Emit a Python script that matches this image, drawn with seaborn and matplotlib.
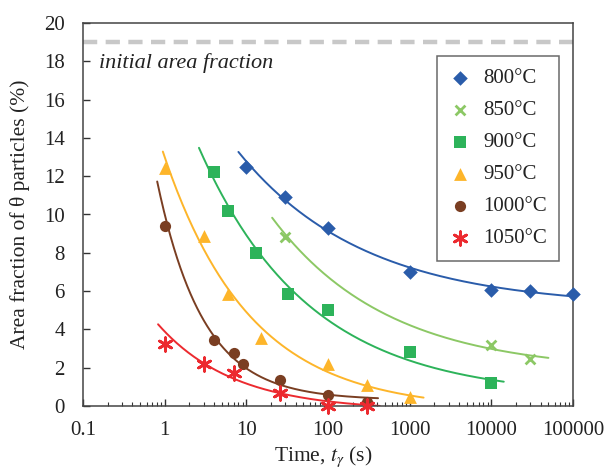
import numpy as np
import pandas as pd
import matplotlib
matplotlib.use("Agg")
import matplotlib.pyplot as plt
import seaborn as sns
from matplotlib.ticker import LogLocator, NullFormatter, FixedLocator, FixedFormatter

# ---- data ----
labels = ["800°C", "850°C", "900°C", "950°C", "1000°C", "1050°C"]
t_800 = [10, 30, 100, 1000, 10000, 30000, 100000]
f_800 = [12.5, 10.9, 9.3, 7.0, 6.05, 6.0, 5.83]
t_850 = [30, 10000, 30000]
f_850 = [8.82, 3.17, 2.47]
t_900 = [4, 6, 13, 32, 100, 1000, 10000]
f_900 = [12.2, 10.2, 7.97, 5.85, 5.0, 2.8, 1.18]
t_950 = [1, 3, 6, 15, 100, 300, 1000]
f_950 = [12.45, 8.89, 5.86, 3.55, 2.17, 1.11, 0.45]
t_1000 = [1, 4, 7, 9, 26, 100, 300]
f_1000 = [9.4, 3.46, 2.78, 2.21, 1.37, 0.57, 0.22]
t_1050 = [1, 3, 7, 26, 100, 300]
f_1050 = [3.22, 2.21, 1.71, 0.66, 0.0, 0.0]

# fitted trend-line extents and end values
curve_start = [8, 20.7, 2.63, 0.95, 0.81, 0.83]
curve_end = [100000, 50000, 14200, 1480, 410, 430]
start_val = [13.33, 9.89, 13.49, 13.46, 11.97, 4.54]
end_val = [5.8, 2.52, 1.06, 0.40, 0.30, 0.17]

initial_fraction = 19.0

colors = ["#2A5CAA", "#8CC865", "#2DB35A", "#FDB52A", "#7A3E22", "#EC2A2F"]
markers = ["D", "x", "s", "^", "o", (6, 2, 0)]
msizes = [55, 50, 75, 85, 65, 95]

times = [t_800, t_850, t_900, t_950, t_1000, t_1050]
fracs = [f_800, f_850, f_900, f_950, f_1000, f_1050]

# ---- style ----
sns.set_theme(style="white")
plt.rcParams["font.family"] = ["Liberation Serif", "DejaVu Serif"]
plt.rcParams["mathtext.fontset"] = "stix"

fig = plt.figure(figsize=(6.06, 4.71), dpi=100)
ax = fig.add_axes([83 / 606, 1 - 406 / 471, 490 / 606, 383 / 471])


def fit_curve(x, y):
    x = np.asarray(x, float)
    y = np.asarray(y, float)
    best = None
    for c in np.linspace(0.03, 3.0, 600):
        A = np.column_stack([np.ones_like(x), x ** (-c)])
        coef, *_ = np.linalg.lstsq(A, y, rcond=None)
        err = np.sum((A @ coef - y) ** 2)
        if best is None or err < best[0]:
            best = (err, coef, c)
    _, (a, b), c = best
    return a, b, c


for i in range(6):
    xs = list(times[i]) + [curve_start[i], curve_end[i]]
    ys = list(fracs[i]) + [start_val[i], end_val[i]]
    w = [1.0] * len(times[i]) + [2.0, 1.0]
    xs = np.repeat(xs, [int(k) for k in w])
    ys = np.repeat(ys, [int(k) for k in w])
    a, b, c = fit_curve(xs, ys)
    xx = np.logspace(np.log10(curve_start[i]), np.log10(curve_end[i]), 200)
    yy = a + b * xx ** (-c)
    sns.lineplot(x=xx, y=yy, ax=ax, color=colors[i], lw=1.4, legend=False,
                 estimator=None, sort=False)

for i in range(6):
    df = pd.DataFrame({"t": times[i], "f": fracs[i]})
    lw = 2.0 if markers[i] in ("x", (6, 2, 0)) else 0
    sns.scatterplot(data=df, x="t", y="f", ax=ax, color=colors[i],
                    marker=markers[i], s=msizes[i], linewidth=lw,
                    edgecolor=colors[i], label=labels[i], zorder=5, clip_on=False)

ax.axhline(initial_fraction, color="#C8C8C8", lw=3.2, dashes=(3.2, 1.9), zorder=1)
ax.text(0.157, 17.9, "initial area fraction", fontsize=16, style="italic",
        color="#222222", va="center", ha="left")

ax.set_xscale("log")
ax.set_xlim(0.1, 100000)
ax.set_ylim(0, 20)
ax.set_yticks(np.arange(0, 21, 2))
ax.xaxis.set_major_locator(FixedLocator([0.1, 1, 10, 100, 1000, 10000, 100000]))
ax.xaxis.set_major_formatter(FixedFormatter(["0.1", "1", "10", "100", "1000", "10000", "100000"]))
ax.xaxis.set_minor_locator(LogLocator(base=10, subs=np.arange(2, 10), numticks=20))
ax.xaxis.set_minor_formatter(NullFormatter())
ax.tick_params(axis="both", which="major", direction="in", length=5, width=1,
               color="#333333", labelsize=15, labelcolor="#222222",
               top=False, right=False, bottom=True, left=True)
ax.tick_params(axis="y", which="major", pad=13)
ax.tick_params(axis="x", which="major", pad=11)
ax.tick_params(axis="x", which="minor", direction="in", length=3, width=0.8,
               color="#333333", top=False, bottom=True)
for s in ax.spines.values():
    s.set_color("#444444")
    s.set_linewidth(1.1)

ax.set_xlabel(r"Time, $t_\gamma$ (s)", fontsize=15.5, color="#222222")
ax.set_ylabel("Area fraction of θ particles (%)", fontsize=15.5, color="#222222")
ax.xaxis.set_label_coords(0.491, -0.100)
ax.yaxis.set_label_coords(-0.108, 0.5)

leg = ax.legend(loc="upper right", bbox_to_anchor=(0.972, 0.914), borderaxespad=0,
                fontsize=15, frameon=True, fancybox=False, edgecolor="#444444",
                labelspacing=0.6, handletextpad=0.6, borderpad=0.6,
                handlelength=1.0, markerscale=1.0)
leg.get_frame().set_linewidth(1.1)
for t in leg.get_texts():
    t.set_color("#222222")

fig.savefig("out.png", dpi=100)
